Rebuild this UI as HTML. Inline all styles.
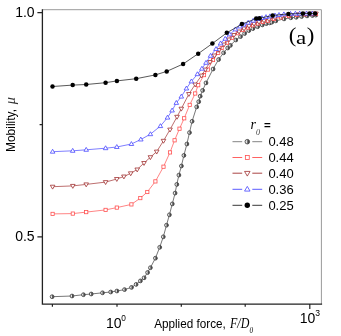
<!DOCTYPE html>
<html><head><meta charset="utf-8"><title>Mobility</title>
<style>
html,body{margin:0;padding:0;background:#fff;}
body{width:341px;height:336px;overflow:hidden;font-family:"Liberation Sans",sans-serif;}
svg{display:block;will-change:transform;transform:translateZ(0)}
text{font-family:"Liberation Sans",sans-serif;fill:#000}
.ser{font-family:"Liberation Serif",serif}
</style></head><body>
<svg width="341" height="336" viewBox="0 0 341 336">
<rect width="341" height="336" fill="#fff"/>
<path d="M42.4,9.7H321.4V304.1" fill="none" stroke="#9a9a9a" stroke-width="1"/>
<polyline fill="none" stroke="#4a4a4a" stroke-width="0.75" points="52.1,296.7 72.0,296.0 83.4,294.7 91.2,294.0 102.5,292.8 110.7,292.0 116.9,291.0 124.5,289.6 131.5,287.4 136.1,284.4 140.4,280.9 144.1,277.8 147.6,272.5 150.4,267.7 155.4,258.2 159.7,247.3 163.3,236.8 166.5,225.2 169.4,214.8 172.3,203.9 175.1,193.1 176.8,184.4 178.9,175.1 181.4,166.0 183.9,155.4 186.9,144.0 189.5,132.6 192.1,121.3 196.7,106.9 198.7,101.7 200.2,96.2 202.6,90.4 206.0,82.9 213.1,69.0 218.6,59.5 223.6,52.8 227.7,48.0 230.4,45.4 235.8,40.0 240.5,36.6 244.6,33.5 248.8,30.6 252.9,28.6 257.6,26.7 262.3,24.9 266.4,23.6 269.7,22.9 271.8,22.2 275.8,20.9 284.0,18.9 290.8,17.8 296.2,17.3 301.6,16.5 307.0,15.9 312.4,15.5 315.8,15.1"/>
<g transform="translate(52.1 296.7)"><circle r="1.90" fill="#e4e4e4" stroke="#3a3a3a" stroke-width="0.8"/><path d="M0,-1.90A1.90,1.90 0 0 1 0,1.90Z" fill="#4a4a4a"/></g>
<g transform="translate(72.0 296.0)"><circle r="1.90" fill="#e4e4e4" stroke="#3a3a3a" stroke-width="0.8"/><path d="M0,-1.90A1.90,1.90 0 0 1 0,1.90Z" fill="#4a4a4a"/></g>
<g transform="translate(83.4 294.7)"><circle r="1.90" fill="#e4e4e4" stroke="#3a3a3a" stroke-width="0.8"/><path d="M0,-1.90A1.90,1.90 0 0 1 0,1.90Z" fill="#4a4a4a"/></g>
<g transform="translate(91.2 294.0)"><circle r="1.90" fill="#e4e4e4" stroke="#3a3a3a" stroke-width="0.8"/><path d="M0,-1.90A1.90,1.90 0 0 1 0,1.90Z" fill="#4a4a4a"/></g>
<g transform="translate(102.5 292.8)"><circle r="1.90" fill="#e4e4e4" stroke="#3a3a3a" stroke-width="0.8"/><path d="M0,-1.90A1.90,1.90 0 0 1 0,1.90Z" fill="#4a4a4a"/></g>
<g transform="translate(110.7 292.0)"><circle r="1.90" fill="#e4e4e4" stroke="#3a3a3a" stroke-width="0.8"/><path d="M0,-1.90A1.90,1.90 0 0 1 0,1.90Z" fill="#4a4a4a"/></g>
<g transform="translate(116.9 291.0)"><circle r="1.90" fill="#e4e4e4" stroke="#3a3a3a" stroke-width="0.8"/><path d="M0,-1.90A1.90,1.90 0 0 1 0,1.90Z" fill="#4a4a4a"/></g>
<g transform="translate(124.5 289.6)"><circle r="1.90" fill="#e4e4e4" stroke="#3a3a3a" stroke-width="0.8"/><path d="M0,-1.90A1.90,1.90 0 0 1 0,1.90Z" fill="#4a4a4a"/></g>
<g transform="translate(131.5 287.4)"><circle r="1.90" fill="#e4e4e4" stroke="#3a3a3a" stroke-width="0.8"/><path d="M0,-1.90A1.90,1.90 0 0 1 0,1.90Z" fill="#4a4a4a"/></g>
<g transform="translate(136.1 284.4)"><circle r="1.90" fill="#e4e4e4" stroke="#3a3a3a" stroke-width="0.8"/><path d="M0,-1.90A1.90,1.90 0 0 1 0,1.90Z" fill="#4a4a4a"/></g>
<g transform="translate(140.4 280.9)"><circle r="1.90" fill="#e4e4e4" stroke="#3a3a3a" stroke-width="0.8"/><path d="M0,-1.90A1.90,1.90 0 0 1 0,1.90Z" fill="#4a4a4a"/></g>
<g transform="translate(144.1 277.8)"><circle r="1.90" fill="#e4e4e4" stroke="#3a3a3a" stroke-width="0.8"/><path d="M0,-1.90A1.90,1.90 0 0 1 0,1.90Z" fill="#4a4a4a"/></g>
<g transform="translate(147.6 272.5)"><circle r="1.90" fill="#e4e4e4" stroke="#3a3a3a" stroke-width="0.8"/><path d="M0,-1.90A1.90,1.90 0 0 1 0,1.90Z" fill="#4a4a4a"/></g>
<g transform="translate(150.4 267.7)"><circle r="1.90" fill="#e4e4e4" stroke="#3a3a3a" stroke-width="0.8"/><path d="M0,-1.90A1.90,1.90 0 0 1 0,1.90Z" fill="#4a4a4a"/></g>
<g transform="translate(155.4 258.2)"><circle r="1.90" fill="#e4e4e4" stroke="#3a3a3a" stroke-width="0.8"/><path d="M0,-1.90A1.90,1.90 0 0 1 0,1.90Z" fill="#4a4a4a"/></g>
<g transform="translate(159.7 247.3)"><circle r="1.90" fill="#e4e4e4" stroke="#3a3a3a" stroke-width="0.8"/><path d="M0,-1.90A1.90,1.90 0 0 1 0,1.90Z" fill="#4a4a4a"/></g>
<g transform="translate(163.3 236.8)"><circle r="1.90" fill="#e4e4e4" stroke="#3a3a3a" stroke-width="0.8"/><path d="M0,-1.90A1.90,1.90 0 0 1 0,1.90Z" fill="#4a4a4a"/></g>
<g transform="translate(166.5 225.2)"><circle r="1.90" fill="#e4e4e4" stroke="#3a3a3a" stroke-width="0.8"/><path d="M0,-1.90A1.90,1.90 0 0 1 0,1.90Z" fill="#4a4a4a"/></g>
<g transform="translate(169.4 214.8)"><circle r="1.90" fill="#e4e4e4" stroke="#3a3a3a" stroke-width="0.8"/><path d="M0,-1.90A1.90,1.90 0 0 1 0,1.90Z" fill="#4a4a4a"/></g>
<g transform="translate(172.3 203.9)"><circle r="1.90" fill="#e4e4e4" stroke="#3a3a3a" stroke-width="0.8"/><path d="M0,-1.90A1.90,1.90 0 0 1 0,1.90Z" fill="#4a4a4a"/></g>
<g transform="translate(175.1 193.1)"><circle r="1.90" fill="#e4e4e4" stroke="#3a3a3a" stroke-width="0.8"/><path d="M0,-1.90A1.90,1.90 0 0 1 0,1.90Z" fill="#4a4a4a"/></g>
<g transform="translate(176.8 184.4)"><circle r="1.90" fill="#e4e4e4" stroke="#3a3a3a" stroke-width="0.8"/><path d="M0,-1.90A1.90,1.90 0 0 1 0,1.90Z" fill="#4a4a4a"/></g>
<g transform="translate(178.9 175.1)"><circle r="1.90" fill="#e4e4e4" stroke="#3a3a3a" stroke-width="0.8"/><path d="M0,-1.90A1.90,1.90 0 0 1 0,1.90Z" fill="#4a4a4a"/></g>
<g transform="translate(181.4 166.0)"><circle r="1.90" fill="#e4e4e4" stroke="#3a3a3a" stroke-width="0.8"/><path d="M0,-1.90A1.90,1.90 0 0 1 0,1.90Z" fill="#4a4a4a"/></g>
<g transform="translate(183.9 155.4)"><circle r="1.90" fill="#e4e4e4" stroke="#3a3a3a" stroke-width="0.8"/><path d="M0,-1.90A1.90,1.90 0 0 1 0,1.90Z" fill="#4a4a4a"/></g>
<g transform="translate(186.9 144.0)"><circle r="1.90" fill="#e4e4e4" stroke="#3a3a3a" stroke-width="0.8"/><path d="M0,-1.90A1.90,1.90 0 0 1 0,1.90Z" fill="#4a4a4a"/></g>
<g transform="translate(189.5 132.6)"><circle r="1.90" fill="#e4e4e4" stroke="#3a3a3a" stroke-width="0.8"/><path d="M0,-1.90A1.90,1.90 0 0 1 0,1.90Z" fill="#4a4a4a"/></g>
<g transform="translate(192.1 121.3)"><circle r="1.90" fill="#e4e4e4" stroke="#3a3a3a" stroke-width="0.8"/><path d="M0,-1.90A1.90,1.90 0 0 1 0,1.90Z" fill="#4a4a4a"/></g>
<g transform="translate(196.7 106.9)"><circle r="1.90" fill="#e4e4e4" stroke="#3a3a3a" stroke-width="0.8"/><path d="M0,-1.90A1.90,1.90 0 0 1 0,1.90Z" fill="#4a4a4a"/></g>
<g transform="translate(198.7 101.7)"><circle r="1.90" fill="#e4e4e4" stroke="#3a3a3a" stroke-width="0.8"/><path d="M0,-1.90A1.90,1.90 0 0 1 0,1.90Z" fill="#4a4a4a"/></g>
<g transform="translate(200.2 96.2)"><circle r="1.90" fill="#e4e4e4" stroke="#3a3a3a" stroke-width="0.8"/><path d="M0,-1.90A1.90,1.90 0 0 1 0,1.90Z" fill="#4a4a4a"/></g>
<g transform="translate(202.6 90.4)"><circle r="1.90" fill="#e4e4e4" stroke="#3a3a3a" stroke-width="0.8"/><path d="M0,-1.90A1.90,1.90 0 0 1 0,1.90Z" fill="#4a4a4a"/></g>
<g transform="translate(206.0 82.9)"><circle r="1.90" fill="#e4e4e4" stroke="#3a3a3a" stroke-width="0.8"/><path d="M0,-1.90A1.90,1.90 0 0 1 0,1.90Z" fill="#4a4a4a"/></g>
<g transform="translate(213.1 69.0)"><circle r="1.90" fill="#e4e4e4" stroke="#3a3a3a" stroke-width="0.8"/><path d="M0,-1.90A1.90,1.90 0 0 1 0,1.90Z" fill="#4a4a4a"/></g>
<g transform="translate(218.6 59.5)"><circle r="1.90" fill="#e4e4e4" stroke="#3a3a3a" stroke-width="0.8"/><path d="M0,-1.90A1.90,1.90 0 0 1 0,1.90Z" fill="#4a4a4a"/></g>
<g transform="translate(223.6 52.8)"><circle r="1.90" fill="#e4e4e4" stroke="#3a3a3a" stroke-width="0.8"/><path d="M0,-1.90A1.90,1.90 0 0 1 0,1.90Z" fill="#4a4a4a"/></g>
<g transform="translate(227.7 48.0)"><circle r="1.90" fill="#e4e4e4" stroke="#3a3a3a" stroke-width="0.8"/><path d="M0,-1.90A1.90,1.90 0 0 1 0,1.90Z" fill="#4a4a4a"/></g>
<g transform="translate(230.4 45.4)"><circle r="1.90" fill="#e4e4e4" stroke="#3a3a3a" stroke-width="0.8"/><path d="M0,-1.90A1.90,1.90 0 0 1 0,1.90Z" fill="#4a4a4a"/></g>
<g transform="translate(235.8 40.0)"><circle r="1.90" fill="#e4e4e4" stroke="#3a3a3a" stroke-width="0.8"/><path d="M0,-1.90A1.90,1.90 0 0 1 0,1.90Z" fill="#4a4a4a"/></g>
<g transform="translate(240.5 36.6)"><circle r="1.90" fill="#e4e4e4" stroke="#3a3a3a" stroke-width="0.8"/><path d="M0,-1.90A1.90,1.90 0 0 1 0,1.90Z" fill="#4a4a4a"/></g>
<g transform="translate(244.6 33.5)"><circle r="1.90" fill="#e4e4e4" stroke="#3a3a3a" stroke-width="0.8"/><path d="M0,-1.90A1.90,1.90 0 0 1 0,1.90Z" fill="#4a4a4a"/></g>
<g transform="translate(248.8 30.6)"><circle r="1.90" fill="#e4e4e4" stroke="#3a3a3a" stroke-width="0.8"/><path d="M0,-1.90A1.90,1.90 0 0 1 0,1.90Z" fill="#4a4a4a"/></g>
<g transform="translate(252.9 28.6)"><circle r="1.90" fill="#e4e4e4" stroke="#3a3a3a" stroke-width="0.8"/><path d="M0,-1.90A1.90,1.90 0 0 1 0,1.90Z" fill="#4a4a4a"/></g>
<g transform="translate(257.6 26.7)"><circle r="1.90" fill="#e4e4e4" stroke="#3a3a3a" stroke-width="0.8"/><path d="M0,-1.90A1.90,1.90 0 0 1 0,1.90Z" fill="#4a4a4a"/></g>
<g transform="translate(262.3 24.9)"><circle r="1.90" fill="#e4e4e4" stroke="#3a3a3a" stroke-width="0.8"/><path d="M0,-1.90A1.90,1.90 0 0 1 0,1.90Z" fill="#4a4a4a"/></g>
<g transform="translate(266.4 23.6)"><circle r="1.90" fill="#e4e4e4" stroke="#3a3a3a" stroke-width="0.8"/><path d="M0,-1.90A1.90,1.90 0 0 1 0,1.90Z" fill="#4a4a4a"/></g>
<g transform="translate(269.7 22.9)"><circle r="1.90" fill="#e4e4e4" stroke="#3a3a3a" stroke-width="0.8"/><path d="M0,-1.90A1.90,1.90 0 0 1 0,1.90Z" fill="#4a4a4a"/></g>
<g transform="translate(271.8 22.2)"><circle r="1.90" fill="#e4e4e4" stroke="#3a3a3a" stroke-width="0.8"/><path d="M0,-1.90A1.90,1.90 0 0 1 0,1.90Z" fill="#4a4a4a"/></g>
<g transform="translate(275.8 20.9)"><circle r="1.90" fill="#e4e4e4" stroke="#3a3a3a" stroke-width="0.8"/><path d="M0,-1.90A1.90,1.90 0 0 1 0,1.90Z" fill="#4a4a4a"/></g>
<g transform="translate(284.0 18.9)"><circle r="1.90" fill="#e4e4e4" stroke="#3a3a3a" stroke-width="0.8"/><path d="M0,-1.90A1.90,1.90 0 0 1 0,1.90Z" fill="#4a4a4a"/></g>
<g transform="translate(290.8 17.8)"><circle r="1.90" fill="#e4e4e4" stroke="#3a3a3a" stroke-width="0.8"/><path d="M0,-1.90A1.90,1.90 0 0 1 0,1.90Z" fill="#4a4a4a"/></g>
<g transform="translate(296.2 17.3)"><circle r="1.90" fill="#e4e4e4" stroke="#3a3a3a" stroke-width="0.8"/><path d="M0,-1.90A1.90,1.90 0 0 1 0,1.90Z" fill="#4a4a4a"/></g>
<g transform="translate(301.6 16.5)"><circle r="1.90" fill="#e4e4e4" stroke="#3a3a3a" stroke-width="0.8"/><path d="M0,-1.90A1.90,1.90 0 0 1 0,1.90Z" fill="#4a4a4a"/></g>
<g transform="translate(307.0 15.9)"><circle r="1.90" fill="#e4e4e4" stroke="#3a3a3a" stroke-width="0.8"/><path d="M0,-1.90A1.90,1.90 0 0 1 0,1.90Z" fill="#4a4a4a"/></g>
<g transform="translate(312.4 15.5)"><circle r="1.90" fill="#e4e4e4" stroke="#3a3a3a" stroke-width="0.8"/><path d="M0,-1.90A1.90,1.90 0 0 1 0,1.90Z" fill="#4a4a4a"/></g>
<g transform="translate(315.8 15.1)"><circle r="1.90" fill="#e4e4e4" stroke="#3a3a3a" stroke-width="0.8"/><path d="M0,-1.90A1.90,1.90 0 0 1 0,1.90Z" fill="#4a4a4a"/></g>
<polyline fill="none" stroke="#ff5050" stroke-width="0.7" points="52.6,213.9 72.8,213.6 86.2,212.1 105.6,209.9 116.8,207.6 131.4,204.4 140.3,198.1 147.3,192.0 155.4,181.4 163.5,166.7 170.0,152.4 174.6,140.3 179.5,128.7 184.2,118.3 189.7,104.9 195.2,93.5 198.2,85.2 204.0,75.1 207.8,69.6 213.0,60.0 218.2,52.8 221.6,48.0 227.0,42.7 231.7,37.9 237.8,33.2 243.2,29.8 248.0,27.5 253.0,25.3 258.0,23.5 263.0,22.0 268.0,20.7 274.0,19.0 281.0,17.4 289.0,16.0 297.0,15.0 305.0,14.3 312.0,14.0 316.0,13.9"/>
<rect x="50.98" y="212.28" width="3.24" height="3.24" fill="#fff" stroke="#ff5050" stroke-width="0.8"/>
<rect x="71.18" y="211.98" width="3.24" height="3.24" fill="#fff" stroke="#ff5050" stroke-width="0.8"/>
<rect x="84.58" y="210.48" width="3.24" height="3.24" fill="#fff" stroke="#ff5050" stroke-width="0.8"/>
<rect x="103.98" y="208.28" width="3.24" height="3.24" fill="#fff" stroke="#ff5050" stroke-width="0.8"/>
<rect x="115.18" y="205.98" width="3.24" height="3.24" fill="#fff" stroke="#ff5050" stroke-width="0.8"/>
<rect x="129.78" y="202.78" width="3.24" height="3.24" fill="#fff" stroke="#ff5050" stroke-width="0.8"/>
<rect x="138.68" y="196.48" width="3.24" height="3.24" fill="#fff" stroke="#ff5050" stroke-width="0.8"/>
<rect x="145.68" y="190.38" width="3.24" height="3.24" fill="#fff" stroke="#ff5050" stroke-width="0.8"/>
<rect x="153.78" y="179.78" width="3.24" height="3.24" fill="#fff" stroke="#ff5050" stroke-width="0.8"/>
<rect x="161.88" y="165.08" width="3.24" height="3.24" fill="#fff" stroke="#ff5050" stroke-width="0.8"/>
<rect x="168.38" y="150.78" width="3.24" height="3.24" fill="#fff" stroke="#ff5050" stroke-width="0.8"/>
<rect x="172.98" y="138.68" width="3.24" height="3.24" fill="#fff" stroke="#ff5050" stroke-width="0.8"/>
<rect x="177.88" y="127.08" width="3.24" height="3.24" fill="#fff" stroke="#ff5050" stroke-width="0.8"/>
<rect x="182.58" y="116.68" width="3.24" height="3.24" fill="#fff" stroke="#ff5050" stroke-width="0.8"/>
<rect x="188.08" y="103.28" width="3.24" height="3.24" fill="#fff" stroke="#ff5050" stroke-width="0.8"/>
<rect x="193.58" y="91.88" width="3.24" height="3.24" fill="#fff" stroke="#ff5050" stroke-width="0.8"/>
<rect x="196.58" y="83.58" width="3.24" height="3.24" fill="#fff" stroke="#ff5050" stroke-width="0.8"/>
<rect x="202.38" y="73.48" width="3.24" height="3.24" fill="#fff" stroke="#ff5050" stroke-width="0.8"/>
<rect x="206.18" y="67.98" width="3.24" height="3.24" fill="#fff" stroke="#ff5050" stroke-width="0.8"/>
<rect x="211.38" y="58.38" width="3.24" height="3.24" fill="#fff" stroke="#ff5050" stroke-width="0.8"/>
<rect x="216.58" y="51.18" width="3.24" height="3.24" fill="#fff" stroke="#ff5050" stroke-width="0.8"/>
<rect x="219.98" y="46.38" width="3.24" height="3.24" fill="#fff" stroke="#ff5050" stroke-width="0.8"/>
<rect x="225.38" y="41.08" width="3.24" height="3.24" fill="#fff" stroke="#ff5050" stroke-width="0.8"/>
<rect x="230.08" y="36.28" width="3.24" height="3.24" fill="#fff" stroke="#ff5050" stroke-width="0.8"/>
<rect x="236.18" y="31.58" width="3.24" height="3.24" fill="#fff" stroke="#ff5050" stroke-width="0.8"/>
<rect x="241.58" y="28.18" width="3.24" height="3.24" fill="#fff" stroke="#ff5050" stroke-width="0.8"/>
<rect x="246.38" y="25.88" width="3.24" height="3.24" fill="#fff" stroke="#ff5050" stroke-width="0.8"/>
<rect x="251.38" y="23.68" width="3.24" height="3.24" fill="#fff" stroke="#ff5050" stroke-width="0.8"/>
<rect x="256.38" y="21.88" width="3.24" height="3.24" fill="#fff" stroke="#ff5050" stroke-width="0.8"/>
<rect x="261.38" y="20.38" width="3.24" height="3.24" fill="#fff" stroke="#ff5050" stroke-width="0.8"/>
<rect x="266.38" y="19.08" width="3.24" height="3.24" fill="#fff" stroke="#ff5050" stroke-width="0.8"/>
<rect x="272.38" y="17.38" width="3.24" height="3.24" fill="#fff" stroke="#ff5050" stroke-width="0.8"/>
<rect x="279.38" y="15.78" width="3.24" height="3.24" fill="#fff" stroke="#ff5050" stroke-width="0.8"/>
<rect x="287.38" y="14.38" width="3.24" height="3.24" fill="#fff" stroke="#ff5050" stroke-width="0.8"/>
<rect x="295.38" y="13.38" width="3.24" height="3.24" fill="#fff" stroke="#ff5050" stroke-width="0.8"/>
<rect x="303.38" y="12.68" width="3.24" height="3.24" fill="#fff" stroke="#ff5050" stroke-width="0.8"/>
<rect x="310.38" y="12.38" width="3.24" height="3.24" fill="#fff" stroke="#ff5050" stroke-width="0.8"/>
<rect x="314.38" y="12.28" width="3.24" height="3.24" fill="#fff" stroke="#ff5050" stroke-width="0.8"/>
<polyline fill="none" stroke="#a03030" stroke-width="0.7" points="52.6,186.7 72.8,185.9 86.2,184.4 105.6,182.1 116.8,179.0 123.9,176.5 130.7,173.3 137.2,169.5 144.0,163.0 150.4,157.2 156.7,151.6 163.5,140.8 170.0,129.6 177.0,116.8 181.3,108.7 188.9,94.0 195.2,84.5 201.5,75.6 205.3,69.6 210.0,62.0 214.5,55.5 219.0,50.0 224.0,44.5 229.0,39.5 234.0,35.0 239.0,31.5 244.0,28.5 249.0,26.0 254.0,23.8 259.0,22.0 264.0,20.5 269.0,19.2 275.0,17.6 282.0,16.2 290.0,15.0 298.0,14.2 306.0,13.8 313.0,13.6 316.0,13.6"/>
<path d="M52.60,189.12l2.30,-3.90h-4.60z" fill="#fff" stroke="#a03030" stroke-width="0.8" stroke-linejoin="miter"/>
<path d="M72.80,188.32l2.30,-3.90h-4.60z" fill="#fff" stroke="#a03030" stroke-width="0.8" stroke-linejoin="miter"/>
<path d="M86.20,186.82l2.30,-3.90h-4.60z" fill="#fff" stroke="#a03030" stroke-width="0.8" stroke-linejoin="miter"/>
<path d="M105.60,184.52l2.30,-3.90h-4.60z" fill="#fff" stroke="#a03030" stroke-width="0.8" stroke-linejoin="miter"/>
<path d="M116.80,181.42l2.30,-3.90h-4.60z" fill="#fff" stroke="#a03030" stroke-width="0.8" stroke-linejoin="miter"/>
<path d="M123.90,178.92l2.30,-3.90h-4.60z" fill="#fff" stroke="#a03030" stroke-width="0.8" stroke-linejoin="miter"/>
<path d="M130.70,175.72l2.30,-3.90h-4.60z" fill="#fff" stroke="#a03030" stroke-width="0.8" stroke-linejoin="miter"/>
<path d="M137.20,171.92l2.30,-3.90h-4.60z" fill="#fff" stroke="#a03030" stroke-width="0.8" stroke-linejoin="miter"/>
<path d="M144.00,165.42l2.30,-3.90h-4.60z" fill="#fff" stroke="#a03030" stroke-width="0.8" stroke-linejoin="miter"/>
<path d="M150.40,159.62l2.30,-3.90h-4.60z" fill="#fff" stroke="#a03030" stroke-width="0.8" stroke-linejoin="miter"/>
<path d="M156.70,154.02l2.30,-3.90h-4.60z" fill="#fff" stroke="#a03030" stroke-width="0.8" stroke-linejoin="miter"/>
<path d="M163.50,143.22l2.30,-3.90h-4.60z" fill="#fff" stroke="#a03030" stroke-width="0.8" stroke-linejoin="miter"/>
<path d="M170.00,132.02l2.30,-3.90h-4.60z" fill="#fff" stroke="#a03030" stroke-width="0.8" stroke-linejoin="miter"/>
<path d="M177.00,119.22l2.30,-3.90h-4.60z" fill="#fff" stroke="#a03030" stroke-width="0.8" stroke-linejoin="miter"/>
<path d="M181.30,111.12l2.30,-3.90h-4.60z" fill="#fff" stroke="#a03030" stroke-width="0.8" stroke-linejoin="miter"/>
<path d="M188.90,96.42l2.30,-3.90h-4.60z" fill="#fff" stroke="#a03030" stroke-width="0.8" stroke-linejoin="miter"/>
<path d="M195.20,86.92l2.30,-3.90h-4.60z" fill="#fff" stroke="#a03030" stroke-width="0.8" stroke-linejoin="miter"/>
<path d="M201.50,78.02l2.30,-3.90h-4.60z" fill="#fff" stroke="#a03030" stroke-width="0.8" stroke-linejoin="miter"/>
<path d="M205.30,72.02l2.30,-3.90h-4.60z" fill="#fff" stroke="#a03030" stroke-width="0.8" stroke-linejoin="miter"/>
<path d="M210.00,64.42l2.30,-3.90h-4.60z" fill="#fff" stroke="#a03030" stroke-width="0.8" stroke-linejoin="miter"/>
<path d="M214.50,57.92l2.30,-3.90h-4.60z" fill="#fff" stroke="#a03030" stroke-width="0.8" stroke-linejoin="miter"/>
<path d="M219.00,52.42l2.30,-3.90h-4.60z" fill="#fff" stroke="#a03030" stroke-width="0.8" stroke-linejoin="miter"/>
<path d="M224.00,46.92l2.30,-3.90h-4.60z" fill="#fff" stroke="#a03030" stroke-width="0.8" stroke-linejoin="miter"/>
<path d="M229.00,41.92l2.30,-3.90h-4.60z" fill="#fff" stroke="#a03030" stroke-width="0.8" stroke-linejoin="miter"/>
<path d="M234.00,37.42l2.30,-3.90h-4.60z" fill="#fff" stroke="#a03030" stroke-width="0.8" stroke-linejoin="miter"/>
<path d="M239.00,33.92l2.30,-3.90h-4.60z" fill="#fff" stroke="#a03030" stroke-width="0.8" stroke-linejoin="miter"/>
<path d="M244.00,30.92l2.30,-3.90h-4.60z" fill="#fff" stroke="#a03030" stroke-width="0.8" stroke-linejoin="miter"/>
<path d="M249.00,28.42l2.30,-3.90h-4.60z" fill="#fff" stroke="#a03030" stroke-width="0.8" stroke-linejoin="miter"/>
<path d="M254.00,26.22l2.30,-3.90h-4.60z" fill="#fff" stroke="#a03030" stroke-width="0.8" stroke-linejoin="miter"/>
<path d="M259.00,24.42l2.30,-3.90h-4.60z" fill="#fff" stroke="#a03030" stroke-width="0.8" stroke-linejoin="miter"/>
<path d="M264.00,22.92l2.30,-3.90h-4.60z" fill="#fff" stroke="#a03030" stroke-width="0.8" stroke-linejoin="miter"/>
<path d="M269.00,21.62l2.30,-3.90h-4.60z" fill="#fff" stroke="#a03030" stroke-width="0.8" stroke-linejoin="miter"/>
<path d="M275.00,20.02l2.30,-3.90h-4.60z" fill="#fff" stroke="#a03030" stroke-width="0.8" stroke-linejoin="miter"/>
<path d="M282.00,18.62l2.30,-3.90h-4.60z" fill="#fff" stroke="#a03030" stroke-width="0.8" stroke-linejoin="miter"/>
<path d="M290.00,17.42l2.30,-3.90h-4.60z" fill="#fff" stroke="#a03030" stroke-width="0.8" stroke-linejoin="miter"/>
<path d="M298.00,16.62l2.30,-3.90h-4.60z" fill="#fff" stroke="#a03030" stroke-width="0.8" stroke-linejoin="miter"/>
<path d="M306.00,16.22l2.30,-3.90h-4.60z" fill="#fff" stroke="#a03030" stroke-width="0.8" stroke-linejoin="miter"/>
<path d="M313.00,16.02l2.30,-3.90h-4.60z" fill="#fff" stroke="#a03030" stroke-width="0.8" stroke-linejoin="miter"/>
<path d="M316.00,16.02l2.30,-3.90h-4.60z" fill="#fff" stroke="#a03030" stroke-width="0.8" stroke-linejoin="miter"/>
<polyline fill="none" stroke="#4848ff" stroke-width="0.7" points="52.6,151.7 72.7,150.8 86.2,149.8 105.6,148.2 116.8,147.0 131.4,144.0 140.8,139.5 150.4,134.2 160.4,126.1 167.5,117.6 172.1,110.5 176.3,102.9 181.3,96.6 186.4,88.5 191.4,81.4 197.4,74.2 201.9,68.7 206.0,62.8 210.5,55.8 216.0,49.0 220.6,43.4 225.2,38.8 229.7,34.4 235.4,29.4 240.0,26.5 243.6,24.7 248.2,22.7 253.2,20.7 258.0,19.0 262.0,18.0 266.0,17.0 270.0,16.3 275.0,15.5 279.0,14.9 283.9,14.3 290.5,13.9 295.4,13.7 299.7,13.6 306.5,13.6 312.3,13.6"/>
<path d="M52.60,149.28l2.30,3.90h-4.60z" fill="#fff" stroke="#4848ff" stroke-width="0.8" stroke-linejoin="miter"/>
<path d="M72.70,148.38l2.30,3.90h-4.60z" fill="#fff" stroke="#4848ff" stroke-width="0.8" stroke-linejoin="miter"/>
<path d="M86.20,147.38l2.30,3.90h-4.60z" fill="#fff" stroke="#4848ff" stroke-width="0.8" stroke-linejoin="miter"/>
<path d="M105.60,145.78l2.30,3.90h-4.60z" fill="#fff" stroke="#4848ff" stroke-width="0.8" stroke-linejoin="miter"/>
<path d="M116.80,144.58l2.30,3.90h-4.60z" fill="#fff" stroke="#4848ff" stroke-width="0.8" stroke-linejoin="miter"/>
<path d="M131.40,141.58l2.30,3.90h-4.60z" fill="#fff" stroke="#4848ff" stroke-width="0.8" stroke-linejoin="miter"/>
<path d="M140.80,137.08l2.30,3.90h-4.60z" fill="#fff" stroke="#4848ff" stroke-width="0.8" stroke-linejoin="miter"/>
<path d="M150.40,131.78l2.30,3.90h-4.60z" fill="#fff" stroke="#4848ff" stroke-width="0.8" stroke-linejoin="miter"/>
<path d="M160.40,123.68l2.30,3.90h-4.60z" fill="#fff" stroke="#4848ff" stroke-width="0.8" stroke-linejoin="miter"/>
<path d="M167.50,115.18l2.30,3.90h-4.60z" fill="#fff" stroke="#4848ff" stroke-width="0.8" stroke-linejoin="miter"/>
<path d="M172.10,108.08l2.30,3.90h-4.60z" fill="#fff" stroke="#4848ff" stroke-width="0.8" stroke-linejoin="miter"/>
<path d="M176.30,100.48l2.30,3.90h-4.60z" fill="#fff" stroke="#4848ff" stroke-width="0.8" stroke-linejoin="miter"/>
<path d="M181.30,94.18l2.30,3.90h-4.60z" fill="#fff" stroke="#4848ff" stroke-width="0.8" stroke-linejoin="miter"/>
<path d="M186.40,86.08l2.30,3.90h-4.60z" fill="#fff" stroke="#4848ff" stroke-width="0.8" stroke-linejoin="miter"/>
<path d="M191.40,78.98l2.30,3.90h-4.60z" fill="#fff" stroke="#4848ff" stroke-width="0.8" stroke-linejoin="miter"/>
<path d="M197.40,71.78l2.30,3.90h-4.60z" fill="#fff" stroke="#4848ff" stroke-width="0.8" stroke-linejoin="miter"/>
<path d="M201.90,66.28l2.30,3.90h-4.60z" fill="#fff" stroke="#4848ff" stroke-width="0.8" stroke-linejoin="miter"/>
<path d="M206.00,60.38l2.30,3.90h-4.60z" fill="#fff" stroke="#4848ff" stroke-width="0.8" stroke-linejoin="miter"/>
<path d="M210.50,53.38l2.30,3.90h-4.60z" fill="#fff" stroke="#4848ff" stroke-width="0.8" stroke-linejoin="miter"/>
<path d="M216.00,46.58l2.30,3.90h-4.60z" fill="#fff" stroke="#4848ff" stroke-width="0.8" stroke-linejoin="miter"/>
<path d="M220.60,40.98l2.30,3.90h-4.60z" fill="#fff" stroke="#4848ff" stroke-width="0.8" stroke-linejoin="miter"/>
<path d="M225.20,36.38l2.30,3.90h-4.60z" fill="#fff" stroke="#4848ff" stroke-width="0.8" stroke-linejoin="miter"/>
<path d="M229.70,31.98l2.30,3.90h-4.60z" fill="#fff" stroke="#4848ff" stroke-width="0.8" stroke-linejoin="miter"/>
<path d="M235.40,26.98l2.30,3.90h-4.60z" fill="#fff" stroke="#4848ff" stroke-width="0.8" stroke-linejoin="miter"/>
<path d="M240.00,24.08l2.30,3.90h-4.60z" fill="#fff" stroke="#4848ff" stroke-width="0.8" stroke-linejoin="miter"/>
<path d="M243.60,22.28l2.30,3.90h-4.60z" fill="#fff" stroke="#4848ff" stroke-width="0.8" stroke-linejoin="miter"/>
<path d="M248.20,20.28l2.30,3.90h-4.60z" fill="#fff" stroke="#4848ff" stroke-width="0.8" stroke-linejoin="miter"/>
<path d="M253.20,18.28l2.30,3.90h-4.60z" fill="#fff" stroke="#4848ff" stroke-width="0.8" stroke-linejoin="miter"/>
<path d="M258.00,16.58l2.30,3.90h-4.60z" fill="#fff" stroke="#4848ff" stroke-width="0.8" stroke-linejoin="miter"/>
<path d="M262.00,15.58l2.30,3.90h-4.60z" fill="#fff" stroke="#4848ff" stroke-width="0.8" stroke-linejoin="miter"/>
<path d="M266.00,14.58l2.30,3.90h-4.60z" fill="#fff" stroke="#4848ff" stroke-width="0.8" stroke-linejoin="miter"/>
<path d="M270.00,13.88l2.30,3.90h-4.60z" fill="#fff" stroke="#4848ff" stroke-width="0.8" stroke-linejoin="miter"/>
<path d="M275.00,13.08l2.30,3.90h-4.60z" fill="#fff" stroke="#4848ff" stroke-width="0.8" stroke-linejoin="miter"/>
<path d="M279.00,12.48l2.30,3.90h-4.60z" fill="#fff" stroke="#4848ff" stroke-width="0.8" stroke-linejoin="miter"/>
<path d="M283.90,11.88l2.30,3.90h-4.60z" fill="#fff" stroke="#4848ff" stroke-width="0.8" stroke-linejoin="miter"/>
<path d="M290.50,11.48l2.30,3.90h-4.60z" fill="#fff" stroke="#4848ff" stroke-width="0.8" stroke-linejoin="miter"/>
<path d="M295.40,11.28l2.30,3.90h-4.60z" fill="#fff" stroke="#4848ff" stroke-width="0.8" stroke-linejoin="miter"/>
<path d="M299.70,11.18l2.30,3.90h-4.60z" fill="#fff" stroke="#4848ff" stroke-width="0.8" stroke-linejoin="miter"/>
<path d="M306.50,11.18l2.30,3.90h-4.60z" fill="#fff" stroke="#4848ff" stroke-width="0.8" stroke-linejoin="miter"/>
<path d="M312.30,11.18l2.30,3.90h-4.60z" fill="#fff" stroke="#4848ff" stroke-width="0.8" stroke-linejoin="miter"/>
<polyline fill="none" stroke="#111" stroke-width="0.7" points="52.5,86.5 72.7,85.1 86.2,84.5 105.6,82.7 116.9,80.9 136.2,78.7 155.4,74.9 166.7,71.4 183.1,64.0 198.2,53.7 212.4,43.5 226.8,32.8 241.9,24.1 256.2,18.6 259.6,18.2 272.7,15.5 288.4,13.9 302.9,13.5 309.6,13.5 315.1,13.5"/>
<circle cx="52.5" cy="86.5" r="2.25" fill="#000"/>
<circle cx="72.7" cy="85.1" r="2.25" fill="#000"/>
<circle cx="86.2" cy="84.5" r="2.25" fill="#000"/>
<circle cx="105.6" cy="82.7" r="2.25" fill="#000"/>
<circle cx="116.9" cy="80.9" r="2.25" fill="#000"/>
<circle cx="136.2" cy="78.7" r="2.25" fill="#000"/>
<circle cx="155.4" cy="74.9" r="2.25" fill="#000"/>
<circle cx="166.7" cy="71.4" r="2.25" fill="#000"/>
<circle cx="183.1" cy="64.0" r="2.25" fill="#000"/>
<circle cx="198.2" cy="53.7" r="2.25" fill="#000"/>
<circle cx="212.4" cy="43.5" r="2.25" fill="#000"/>
<circle cx="226.8" cy="32.8" r="2.25" fill="#000"/>
<circle cx="241.9" cy="24.1" r="2.25" fill="#000"/>
<circle cx="256.2" cy="18.6" r="2.25" fill="#000"/>
<circle cx="259.6" cy="18.2" r="2.25" fill="#000"/>
<circle cx="272.7" cy="15.5" r="2.25" fill="#000"/>
<circle cx="288.4" cy="13.9" r="2.25" fill="#000"/>
<circle cx="302.9" cy="13.5" r="2.25" fill="#000"/>
<circle cx="309.6" cy="13.5" r="2.25" fill="#000"/>
<circle cx="315.1" cy="13.5" r="2.25" fill="#000"/>
<path d="M42.4,9.3V304.7M41.8,304.1H322.1" fill="none" stroke="#222" stroke-width="1.3"/>
<path d="M37.4,12.6H42.4M37.4,236.8H42.4M39.6,124.7H42.4M52.4,304.1V306.8M117,304.1V306.8M181.3,304.1V306.8M245.2,304.1V306.8M309.8,304.1V309.1" fill="none" stroke="#222" stroke-width="1.2"/>
<text x="34.6" y="16.8" font-size="14" text-anchor="end">1.0</text>
<text x="34.6" y="241.1" font-size="14" text-anchor="end">0.5</text>
<text x="106" y="327.5" font-size="14">10</text><text x="121.2" y="320.5" font-size="8.3">0</text>
<text x="299.7" y="322.8" font-size="14">10</text><text x="315.3" y="315.7" font-size="8.6">3</text>
<text x="154.2" y="327.7" font-size="12.2" textLength="71.6" lengthAdjust="spacingAndGlyphs">Applied force,</text>
<text class="ser" transform="translate(230.0 327.7) scale(0.82 1)" font-style="italic" font-size="14.6" fill="#222">F/D</text>
<text class="ser" x="249.4" y="332.7" font-style="italic" font-size="7.3" fill="#222">0</text>
<text transform="translate(15.3 152.1) rotate(-90)" font-size="12">Mobility, <tspan class="ser" font-style="italic" font-size="14.2" dx="1.3" fill="#333">μ</tspan></text>
<g class="ser" fill="#2e2e2e"><text class="ser" transform="translate(288.85 42.4) scale(1.06 1)" font-size="21.6">(</text><text class="ser" transform="translate(295.9 43.8) scale(1.16 1)" font-size="19.8">a</text><text class="ser" transform="translate(306.8 42.4) scale(1.06 1)" font-size="21.6">)</text></g>
<text x="250.5" y="129.2" class="ser" font-style="italic" font-size="14">r<tspan font-size="8" dy="5.6" fill="#3a3a3a">0</tspan></text>
<text x="264" y="128.6" font-size="11.5" font-weight="bold" fill="#3a3a3a">=</text>
<path d="M232.5,141.7H242.2M252.3,141.7H262.2" stroke="#777" stroke-width="0.9" fill="none"/>
<g transform="translate(247.3 141.7)"><circle r="2.28" fill="#e4e4e4" stroke="#3a3a3a" stroke-width="0.8"/><path d="M0,-2.28A2.28,2.28 0 0 1 0,2.28Z" fill="#4a4a4a"/></g>
<text x="268.4" y="146.2" font-size="13">0.48</text>
<path d="M232.5,157.5H242.2M252.3,157.5H262.2" stroke="#ff5050" stroke-width="0.9" fill="none"/>
<rect x="245.36" y="155.56" width="3.89" height="3.89" fill="#fff" stroke="#ff5050" stroke-width="0.8"/>
<text x="268.4" y="162.0" font-size="13">0.44</text>
<path d="M232.5,173.2H242.2M252.3,173.2H262.2" stroke="#a03030" stroke-width="0.9" fill="none"/>
<path d="M247.30,176.10l2.76,-4.68h-5.52z" fill="#fff" stroke="#a03030" stroke-width="0.8" stroke-linejoin="miter"/>
<text x="268.4" y="177.7" font-size="13">0.40</text>
<path d="M232.5,189.3H242.2M252.3,189.3H262.2" stroke="#4848ff" stroke-width="0.9" fill="none"/>
<path d="M247.30,186.40l2.76,4.68h-5.52z" fill="#fff" stroke="#4848ff" stroke-width="0.8" stroke-linejoin="miter"/>
<text x="268.4" y="193.8" font-size="13">0.36</text>
<path d="M232.5,205.3H242.2M252.3,205.3H262.2" stroke="#222" stroke-width="0.9" fill="none"/>
<circle cx="247.3" cy="205.3" r="2.70" fill="#000"/>
<text x="268.4" y="209.8" font-size="13">0.25</text>
</svg></body></html>
